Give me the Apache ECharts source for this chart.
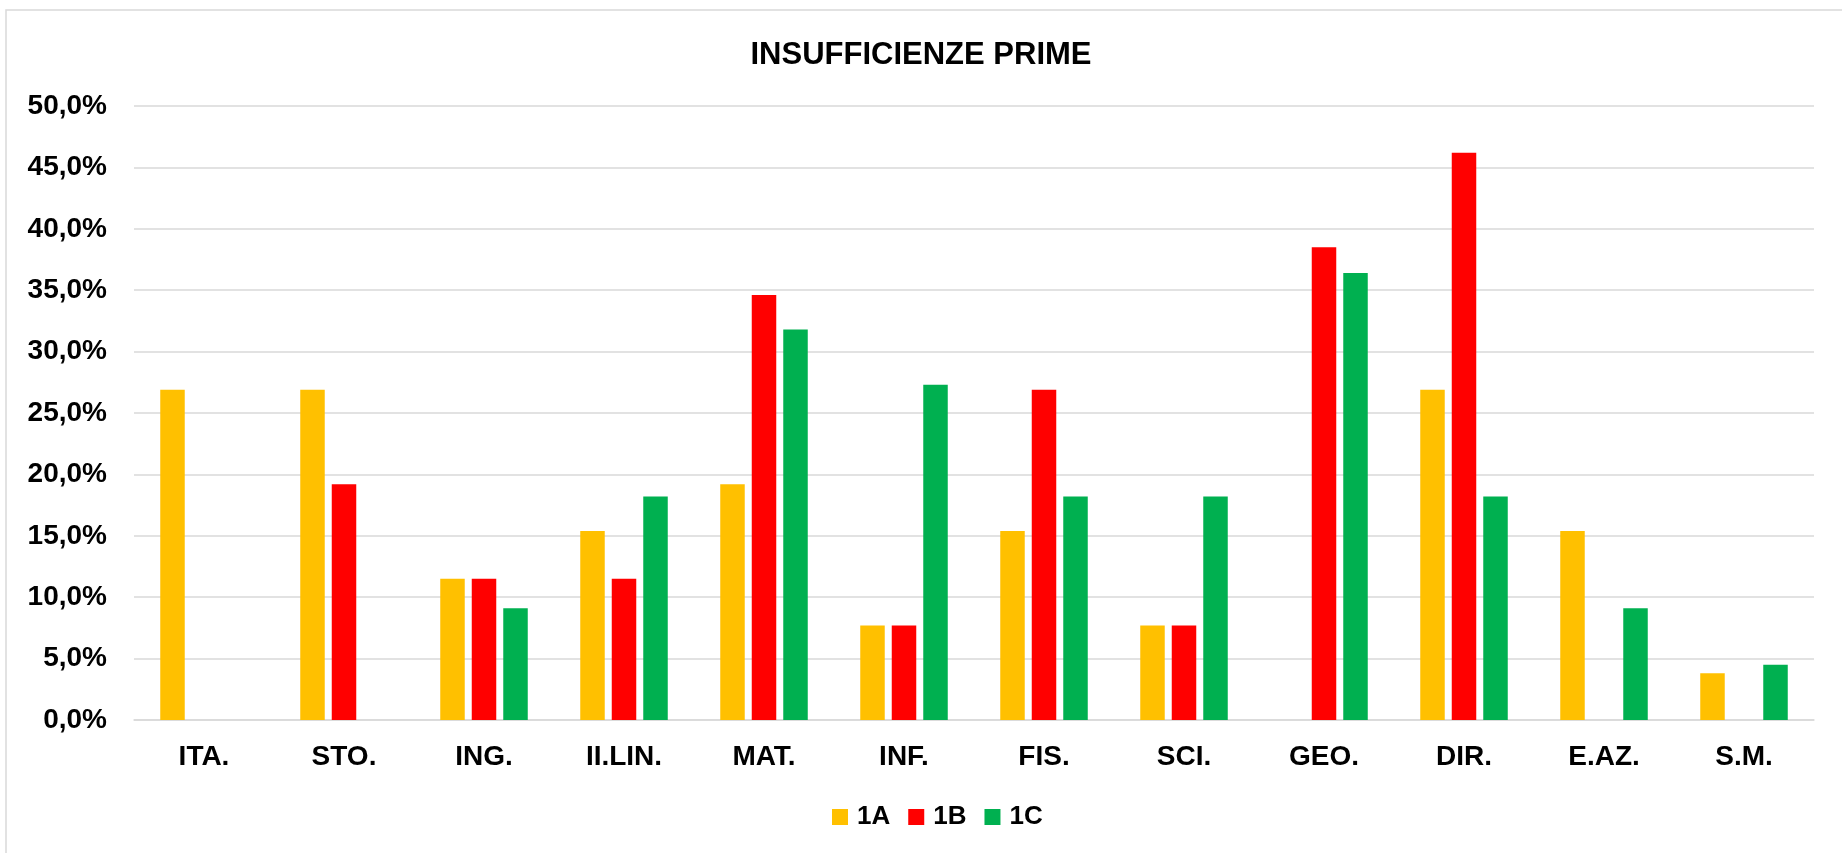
<!DOCTYPE html>
<html>
<head>
<meta charset="utf-8">
<title>Insufficienze prime</title>
<style>
  html, body { margin: 0; padding: 0; background: #fff; }
  #main { width: 1842px; height: 853px; }
</style>
</head>
<body>
<div id="main"></div>
<script src="https://cdn.jsdelivr.net/npm/echarts@6/dist/echarts.min.js"></script>
<script>
// materie (asse x)
var materie = ['ITA.', 'STO.', 'ING.', 'II.LIN.', 'MAT.', 'INF.', 'FIS.', 'SCI.', 'GEO.', 'DIR.', 'E.AZ.', 'S.M.'];
// percentuali per classe (null = nessuna barra)
var classe1A = [26.9, 26.9, 11.5, 15.4, 19.2, 7.7, 15.4, 7.7, null, 26.9, 15.4, 3.8];
var classe1B = [null, 19.2, 11.5, 11.5, 34.6, 7.7, 26.9, 7.7, 38.5, 46.2, null, null];
var classe1C = [null, null, 9.1, 18.2, 31.8, 27.3, 18.2, 18.2, 36.4, 18.2, 9.1, 4.5];
var colori = ['#FFC000', '#FF0000', '#00B050'];

var font = '"Liberation Sans", Arial, sans-serif';
var chart = echarts.init(document.getElementById('main'));

function serie(nome, dati) {
  return {
    name: nome,
    type: 'bar',
    data: dati,
    barWidth: 24.5,
    barGap: '28.6%'
  };
}

chart.setOption({
  animation: false,
  color: colori,
  graphic: [{
    type: 'rect',
    shape: { x: 6, y: 10, width: 1900, height: 900 },
    style: { fill: 'none', stroke: '#d9d9d9', lineWidth: 1.5 },
    silent: true
  }],
  title: {
    text: 'INSUFFICIENZE PRIME',
    left: 'center',
    top: 35,
    textStyle: { fontFamily: font, fontSize: 31, fontWeight: 'bold', color: '#000' }
  },
  legend: {
    left: 827,
    top: 799,
    itemWidth: 16,
    itemHeight: 16,
    itemGap: 18,
    icon: 'rect',
    textStyle: { fontFamily: font, fontSize: 26, fontWeight: 'bold', color: '#000', padding: [0, 0, 0, 4] },
    data: ['1A', '1B', '1C']
  },
  grid: { left: 134, right: 28, top: 106, bottom: 133, containLabel: false },
  xAxis: {
    type: 'category',
    data: materie,
    axisLine: { lineStyle: { color: '#d9d9d9', width: 1.5 } },
    axisTick: { show: false },
    axisLabel: { margin: 23, fontFamily: font, fontSize: 28, fontWeight: 'bold', color: '#000' }
  },
  yAxis: {
    type: 'value',
    min: 0,
    max: 50,
    interval: 5,
    axisLine: { show: false },
    axisTick: { show: false },
    splitLine: { lineStyle: { color: '#d9d9d9', width: 1.5 } },
    axisLabel: {
      margin: 27,
      fontFamily: font, fontSize: 28, fontWeight: 'bold', color: '#000',
      formatter: function (v) { return v.toFixed(1).replace('.', ',') + '%'; }
    }
  },
  series: [
    serie('1A', classe1A),
    serie('1B', classe1B),
    serie('1C', classe1C)
  ]
});
</script>
</body>
</html>
